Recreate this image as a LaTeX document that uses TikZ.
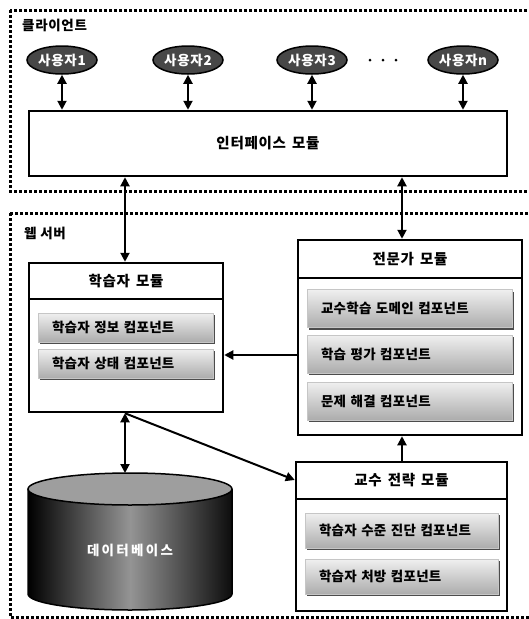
\documentclass[tikz,border=0pt]{standalone}
\usepackage{fontspec}
\setmainfont{Noto Sans CJK KR}
\newfontfamily\krsp{Noto Sans CJK KR}[LetterSpace=5]
\newfontfamily\krcomp{Noto Sans CJK KR}[LetterSpace=2]
\newfontfamily\krdb{Noto Sans CJK KR}[LetterSpace=17]
\usetikzlibrary{arrows.meta,shapes.geometric,shadows}
\begin{document}
\begin{tikzpicture}[x=1pt,y=-1pt,
  font=\krsp\bfseries\fontsize{14.5}{16}\selectfont,
  frame/.style={line width=3pt, dash pattern=on 3pt off 2pt},
  user/.style={ellipse, draw, line width=1.5pt, fill=black!72, text=white,
    minimum width=70pt, minimum height=28pt, inner sep=0pt,
    font=\krsp\bfseries\fontsize{13.5}{15}\selectfont},
  box/.style={draw, line width=2.5pt, fill=white, inner sep=0pt},
  comp/.style={draw=gray!45, line width=0.6pt, top color=gray!12, bottom color=gray!65,
    drop shadow={shadow xshift=2pt, shadow yshift=-2pt, fill=black!70, opacity=1},
    inner xsep=14pt, inner ysep=0pt, align=left,
    font=\krcomp\bfseries\fontsize{13.5}{15}\selectfont},
  lbl/.style={anchor=west, inner sep=0pt, font=\krsp\bfseries\fontsize{13.5}{15}\selectfont},
  dotc/.style={circle, fill=black, inner sep=0pt, minimum size=3pt},
  link/.style={line width=2pt, -{Triangle[length=9pt,width=9pt]}},
  both/.style={line width=2pt, {Triangle[length=9pt,width=9pt]}-{Triangle[length=9pt,width=9pt]}},
]
\useasboundingbox (0,0) rectangle (528,619);
\fill[white] (0,0) rectangle (528,619);

% frames
\draw[frame] (10,10) rectangle (545,191);
\draw[frame] (10,213) rectangle (545,617);
\node[lbl] (lclient) at (22,25) {클라이언트};
\node[lbl] (lweb) at (24,233) {웹 서버};

% users
\node[user] (u1) at (62,60) {사용자1};
\node[user] (u2) at (188,60) {사용자2};
\node[user] (u3) at (312,60) {사용자3};
\node[user] (un) at (463,60) {사용자n};
\node[dotc] (d1) at (370,60) {};
\node[dotc] (d2) at (383,60) {};
\node[dotc] (d3) at (396,60) {};

% interface
\node[box, minimum width=478pt, minimum height=65pt] (iface) at (268,143.5) {인터페이스\hspace{2pt} 모듈};

% learner module
\node[box, minimum width=194pt, minimum height=149pt] (lm) at (126,337.5) {};
\draw[line width=2.5pt] (29,299) -- (223,299);
\node (lmh) at (126,281) {학습자\hspace{2pt} 모듈};
\node[comp, text width=147pt, minimum height=29pt] (lc1) at (125.5,327.5) {\mbox{학습자 정보 컴포넌트}};
\node[comp, text width=147pt, minimum height=29pt] (lc2) at (125.5,363.5) {\mbox{학습자 상태 컴포넌트}};

% expert module
\node[box, minimum width=224pt, minimum height=195pt] (em) at (410,337.5) {};
\draw[line width=2.5pt] (298,278) -- (522,278);
\node (emh) at (410,259) {전문가\hspace{2pt} 모듈};
\node[comp, text width=177pt, minimum height=38pt] (ec1) at (409.5,308.5) {\mbox{교수학습 도메인 컴포넌트}};
\node[comp, text width=177pt, minimum height=38pt] (ec2) at (409.5,354) {\mbox{학습 평가 컴포넌트}};
\node[comp, text width=177pt, minimum height=38pt] (ec3) at (409.5,401) {\mbox{문제 해결 컴포넌트}};

% strategy module
\node[box, minimum width=211pt, minimum height=149pt] (sm) at (401.5,536.5) {};
\draw[line width=2.5pt] (296,499) -- (507,499);
\node (smh) at (401.5,480.5) {교수\hspace{2pt} 전략\hspace{2pt} 모듈};
\node[comp, text width=165pt, minimum height=35pt] (sc1) at (401.5,530.5) {\mbox{학습자 수준 진단 컴포넌트}};
\node[comp, text width=165pt, minimum height=35pt] (sc2) at (401.5,576.5) {\mbox{학습자 처방 컴포넌트}};

% database cylinder
\fill[left color=black, right color=black!95, middle color=black!42]
  (28,489) -- (28,594) arc[start angle=180, end angle=0, x radius=102, y radius=16] -- (232,489) -- cycle;
\draw[line width=1.5pt]
  (28,489) -- (28,594) arc[start angle=180, end angle=0, x radius=102, y radius=16] -- (232,489);
\draw[line width=1.5pt, fill=black!38] (130,489) ellipse[x radius=102, y radius=16];
\node[text=white, font=\krdb\bfseries\fontsize{13.5}{15}\selectfont] (db) at (130,550) {데이터베이스};
\coordinate (dbtop) at (125,473);

% connectors
\coordinate (ca) at (125,0);
\coordinate (cb) at (402,0);
\foreach \u in {u1,u2,u3,un}{
  \draw[both] (\u.south) -- (\u.south |- iface.north);
}
\draw[both] (iface.south -| ca) -- (lm.north -| ca);
\draw[both] (iface.south -| cb) -- (em.north -| cb);
\coordinate (ry) at (0,355);
\draw[link] (em.west |- ry) -- (lm.east |- ry);
\coordinate (sy) at (0,480);
\draw[link] (lm.south -| ca) -- (sm.west |- sy);
\draw[both] (lm.south -| ca) -- (dbtop);
\draw[link] (sm.north -| cb) -- (em.south -| cb);
\end{tikzpicture}
\end{document}
